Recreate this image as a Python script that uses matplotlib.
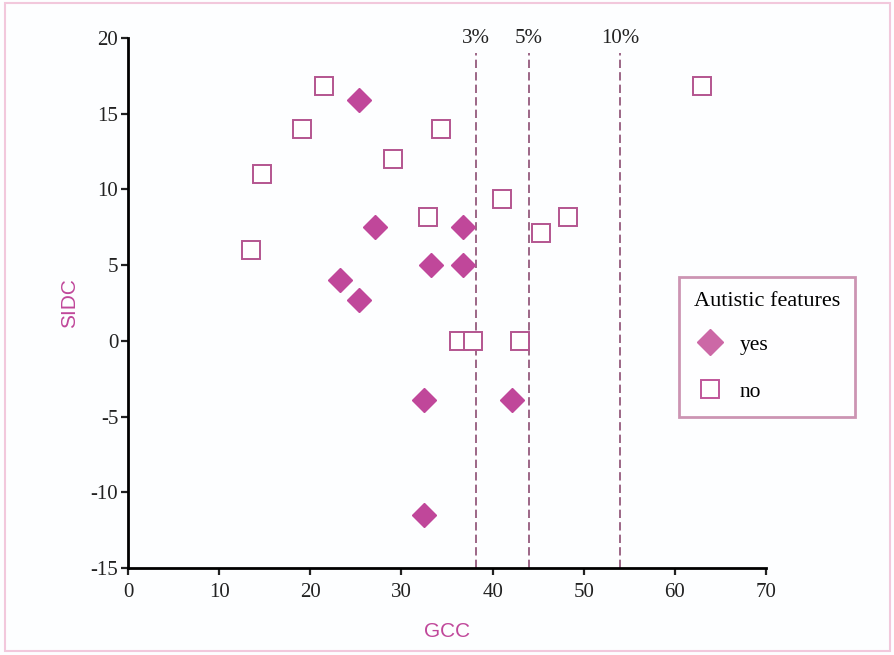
import matplotlib
matplotlib.use("Agg")
import matplotlib.pyplot as plt
from matplotlib.lines import Line2D
from matplotlib.patches import Rectangle

plt.rcParams["axes.unicode_minus"] = False

# GCC / SIDC values
no_gcc = [21.5, 19.1, 14.7, 13.5, 29.1, 34.3, 32.9, 41.0, 45.3, 48.3, 63.0, 36.3, 37.9, 43.0]
no_sidc = [16.8, 14.0, 11.0, 6.0, 12.0, 14.0, 8.2, 9.4, 7.1, 8.2, 16.8, 0.0, 0.0, 0.0]
yes_gcc = [25.3, 27.1, 36.8, 33.2, 36.8, 23.3, 25.3, 32.5, 42.1, 32.5]
yes_sidc = [15.9, 7.5, 7.5, 5.0, 5.0, 4.0, 2.7, -3.9, -3.9, -11.5]
cutoff_x = [38.2, 44.0, 54.0]
cutoff_labels = ["3%", "5%", "10%"]

MAGENTA = "#c0479a"
LIGHT = "#cc68a6"
SQ_EDGE = "#b4558f"
SERIF = ["Liberation Serif", "DejaVu Serif"]

fig = plt.figure(figsize=(8.94, 6.55), dpi=100)
fig.patch.set_facecolor("#fdfeff")
ax = fig.add_axes([128 / 894, 1 - 568 / 655, (766 - 128) / 894, (568 - 38) / 655])
ax.set_facecolor("none")

ax.plot(no_gcc, no_sidc, linestyle="none", marker="s", markersize=13,
        markerfacecolor="white", markeredgecolor=SQ_EDGE, markeredgewidth=1.4, zorder=3)
ax.plot(yes_gcc, yes_sidc, linestyle="none", marker="D", markersize=12.5,
        markerfacecolor=MAGENTA, markeredgecolor=MAGENTA, zorder=4)

for x, lab in zip(cutoff_x, cutoff_labels):
    ax.plot([x, x], [-15, 19.0], color="#8c4d72", linestyle=(0, (5, 2.5)), linewidth=1.2, zorder=2)
    ax.text(x, 19.35, lab, ha="center", va="bottom", fontsize=15, family=SERIF, color="#222222")

ax.set_xlim(0, 70)
ax.set_ylim(-15, 20)
ax.set_xticks(range(0, 71, 10))
ax.set_yticks(range(-15, 21, 5))
ax.spines["top"].set_visible(False)
ax.spines["right"].set_visible(False)
ax.spines["left"].set_linewidth(2)
ax.spines["bottom"].set_linewidth(2)
ax.tick_params(direction="out", length=5, width=1.6, labelsize=15, colors="#222222")
ax.tick_params(axis="y", pad=2)
ax.tick_params(axis="x", pad=6)
for lab in ax.get_xticklabels() + ax.get_yticklabels():
    lab.set_family(SERIF)

ax.set_xlabel("GCC", color=MAGENTA, fontsize=15, labelpad=14, family=["Liberation Sans"])
ax.set_ylabel("SIDC", color=MAGENTA, fontsize=15, labelpad=8, family=["Liberation Sans"])

handles = [
    Line2D([], [], linestyle="none", marker="D", markersize=13,
           markerfacecolor=LIGHT, markeredgecolor=LIGHT),
    Line2D([], [], linestyle="none", marker="s", markersize=13,
           markerfacecolor="white", markeredgecolor="#c0569a", markeredgewidth=1.4),
]
leg = fig.legend(handles, ["yes", "no"], title="Autistic features",
                 loc="upper left", bbox_to_anchor=(679 / 894, 1 - 277 / 655),
                 borderaxespad=0, frameon=True, fancybox=False, edgecolor="#c07aa0",
                 prop={"family": SERIF, "size": 15.5},
                 title_fontproperties={"family": SERIF, "size": 16},
                 borderpad=0.7, labelspacing=1.25, handletextpad=0.6, handlelength=1.5)
leg.get_frame().set_linewidth(2)
leg.get_frame().set_facecolor("white")
leg._legend_box.align = "left"
leg._legend_box.sep = 17

fig.patches.append(Rectangle((0.006, 0.006), 0.99, 0.99, transform=fig.transFigure,
                             fill=False, edgecolor="#f2c8dc", linewidth=1.5))

fig.savefig("out.png", dpi=100, facecolor=fig.get_facecolor())
